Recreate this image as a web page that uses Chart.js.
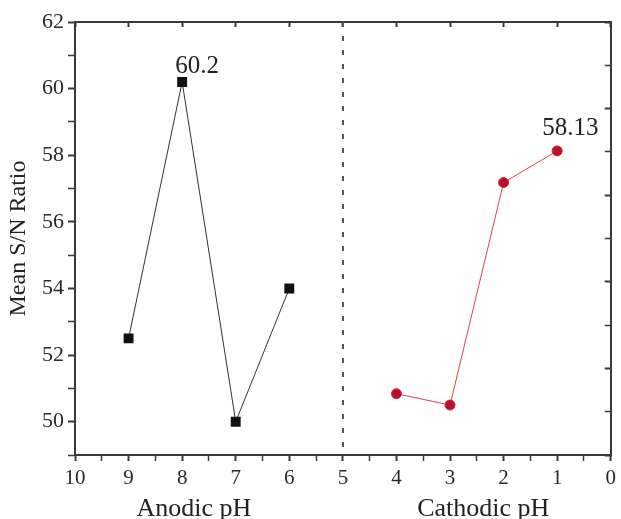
<!DOCTYPE html>
<html><head><meta charset="utf-8">
<script src="https://cdn.jsdelivr.net/npm/chart.js@4"></script>
<style>html,body{margin:0;padding:0;background:#fff;overflow:hidden}#wrap{width:621px;height:519px}</style>
</head><body><div id="wrap"><canvas id="c" width="621" height="519"></canvas></div>
<script>
const anodicPH = [9, 8, 7, 6];
const anodicSN = [52.5, 60.2, 50.0, 54.0];
const cathodicPH = [4, 3, 2, 1];
const cathodicSN = [50.84, 50.5, 57.18, 58.13];
const annotatedAnodic = [1];
const annotatedCathodic = [3];
const dividerPH = 5;
const xTitles = ['Anodic pH', 'Cathodic pH'];
const yTitle = 'Mean S/N Ratio';

const SERIF = '"Liberation Serif", "DejaVu Serif", serif';
const AXIS = '#3a3a3a';

const toPts = (xs, ys) => xs.map((x, i) => ({x: x, y: ys[i]}));

const decor = {
  id: 'decor',
  beforeDatasetsDraw(chart) {
    const {ctx, chartArea, scales} = chart;
    const px = Math.round(scales.x.getPixelForValue(dividerPH));
    ctx.save();
    ctx.strokeStyle = '#555';
    ctx.lineWidth = 2;
    ctx.setLineDash([5, 9]);
    ctx.beginPath();
    ctx.moveTo(px, chartArea.top);
    ctx.lineTo(px, chartArea.bottom);
    ctx.stroke();
    ctx.restore();
  },
  afterDatasetsDraw(chart) {
    const {ctx, chartArea, scales} = chart;
    ctx.save();
    ctx.fillStyle = '#222';
    ctx.textBaseline = 'alphabetic';
    ctx.textAlign = 'left';
    ctx.font = '25px ' + SERIF;
    const m0 = chart.getDatasetMeta(0);
    annotatedAnodic.forEach(i => {
      const p = m0.data[i];
      ctx.fillText(String(anodicSN[i]), p.x - 7, p.y - 9);
    });
    const m1 = chart.getDatasetMeta(1);
    annotatedCathodic.forEach(i => {
      const p = m1.data[i];
      ctx.fillText(String(cathodicSN[i]), p.x - 15, p.y - 16);
    });
    // x titles (placed under each half of the axis)
    const titleAt = [7.78, 2.38];
    ctx.textAlign = 'center';
    ctx.textBaseline = 'middle';
    ctx.font = '26px ' + SERIF;
    xTitles.forEach((t, i) => {
      ctx.fillText(t, scales.x.getPixelForValue(titleAt[i]), 509);
    });
    // y title
    ctx.translate(19, (chartArea.top + chartArea.bottom) / 2);
    ctx.rotate(-Math.PI / 2);
    ctx.font = '24px ' + SERIF;
    ctx.fillText(yTitle, 0, 0);
    ctx.restore();
  }
};

const isInt = v => Math.abs(v - Math.round(v)) < 1e-6;

new Chart(document.getElementById('c'), {
  type: 'scatter',
  data: {
    datasets: [
      {
        data: toPts(anodicPH, anodicSN),
        showLine: true,
        borderColor: '#333',
        borderWidth: 1,
        pointStyle: 'rect',
        pointRadius: 7,
        pointBackgroundColor: '#111',
        pointBorderColor: '#111',
        pointBorderWidth: 0
      },
      {
        data: toPts(cathodicPH, cathodicSN),
        showLine: true,
        borderColor: '#e04050',
        borderWidth: 1,
        pointStyle: 'circle',
        pointRadius: 5,
        pointBackgroundColor: '#b8102a',
        pointBorderColor: '#e0203a',
        pointBorderWidth: 1
      }
    ]
  },
  options: {
    responsive: false,
    devicePixelRatio: 1,
    animation: false,
    layout: {padding: 0},
    plugins: {legend: {display: false}, tooltip: {enabled: false}},
    scales: {
      x: {
        type: 'linear', position: 'bottom', min: 0, max: 10, reverse: true,
        afterFit: s => { s.height = 64; },
        ticks: {
          stepSize: 0.5, autoSkip: false, maxRotation: 0, padding: 5,
          color: '#2a2a2a', font: {family: SERIF, size: 21},
          callback: v => isInt(v) ? String(v) : ''
        },
        grid: {
          drawOnChartArea: false, tickLength: 6, tickColor: AXIS,
          tickWidth: c => isInt(c.tick.value) ? 2 : 1.5
        },
        border: {color: AXIS, width: 2}
      },
      xTop: {
        type: 'linear', position: 'top', min: 0, max: 10, reverse: true,
        afterFit: s => { s.height = 22; },
        ticks: {display: false, stepSize: 1, autoSkip: false},
        grid: {
          drawOnChartArea: false, tickLength: -5, tickColor: AXIS, tickWidth: 2
        },
        border: {color: AXIS, width: 2}
      },
      y: {
        type: 'linear', position: 'left', min: 49, max: 62,
        afterFit: s => { s.width = 75; },
        ticks: {
          stepSize: 1, autoSkip: false, padding: 4,
          color: '#2a2a2a', font: {family: SERIF, size: 22},
          callback: v => (v % 2 === 0) ? String(v) : ''
        },
        grid: {
          drawOnChartArea: false, tickLength: 7, tickColor: AXIS,
          tickWidth: c => (c.tick.value % 2 === 0) ? 2 : 1.5
        },
        border: {color: AXIS, width: 2}
      },
      yRight: {
        type: 'linear', position: 'right', min: 0, max: 10,
        afterFit: s => { s.width = 8; },
        ticks: {display: false, stepSize: 1, autoSkip: false},
        grid: {
          drawOnChartArea: false, tickLength: -6, tickColor: AXIS,
          tickWidth: c => (c.tick.value % 2 === 0) ? 2 : 1.5
        },
        border: {color: AXIS, width: 2}
      }
    }
  },
  plugins: [decor]
});
</script></body></html>
